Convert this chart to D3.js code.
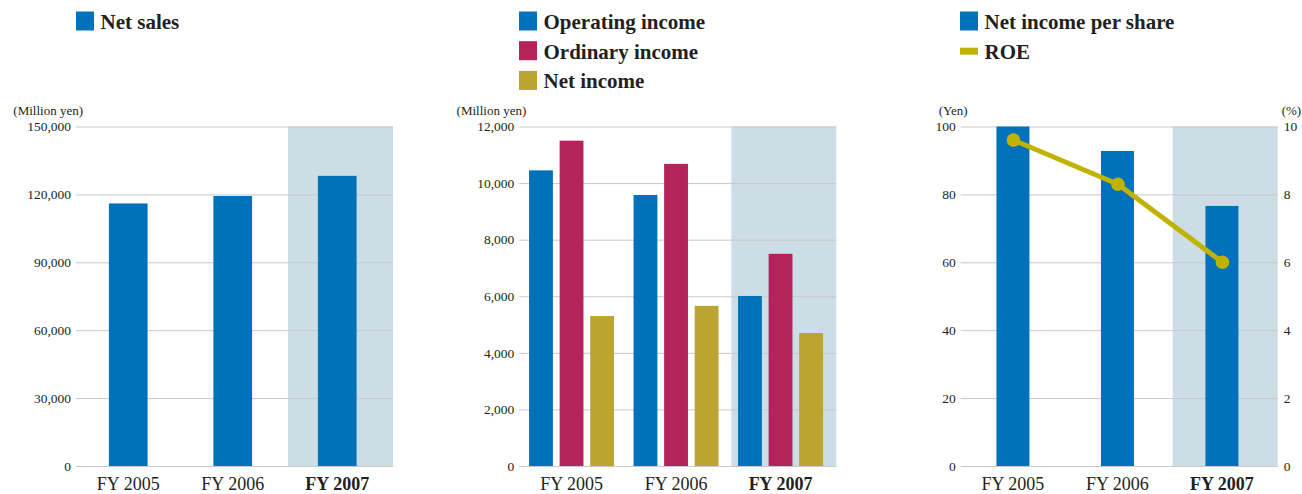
<!DOCTYPE html>
<html>
<head>
<meta charset="utf-8">
<script src="https://cdn.jsdelivr.net/npm/d3@7/dist/d3.min.js"></script>
<style>
  html, body { margin: 0; padding: 0; background: #fff; }
  svg { display: block; }
  text { font-family: "Liberation Serif", "Times New Roman", serif; fill: #231f20; }
</style>
</head>
<body>
<svg id="chart" width="1302" height="494"></svg>
<script>
// ---------- data ----------
const categories = ["FY 2005", "FY 2006", "FY 2007"];
const highlightCategory = "FY 2007";

const netSales = [116000, 119300, 128200];
const salesTicks = [0, 30000, 60000, 90000, 120000, 150000];

const operatingIncome = [10450, 9580, 6010];
const ordinaryIncome = [11500, 10680, 7500];
const netIncome = [5300, 5660, 4700];
const incomeTicks = [0, 2000, 4000, 6000, 8000, 10000, 12000];

const netIncomePerShare = [100, 92.8, 76.6];
const roe = [9.6, 8.3, 6.0];
const epsTicks = [0, 20, 40, 60, 80, 100];
const roeTicks = [0, 2, 4, 6, 8, 10];

const colors = {
  blue: "#0071bb",
  pink: "#b5235d",
  gold: "#bba432",
  roe: "#bfb300",
  shade: "#cdddE5",
  grid: "#c8c8c8"
};

// ---------- layout ----------
const svg = d3.select("#chart");
const yTop = 126.5, yZero = 466;
const plotW = 317;
const fmt = d3.format(",");

function panel(left, domainMax, ticks, unit) {
  const g = svg.append("g").attr("transform", `translate(${left},0)`);
  const x = d3.scaleBand().domain(categories).range([0, 313.5]);
  const y = d3.scaleLinear().domain([0, domainMax]).range([yZero, yTop]);

  // highlight shade for last category
  g.append("rect")
    .attr("x", x(highlightCategory) + 3)
    .attr("y", yTop)
    .attr("width", plotW - x(highlightCategory) - 3)
    .attr("height", yZero - yTop)
    .attr("fill", colors.shade);

  // grid + left axis
  const ax = g.append("g")
    .call(d3.axisLeft(y).tickValues(ticks).tickFormat(fmt).tickSize(-plotW).tickPadding(5));
  ax.select(".domain").remove();
  ax.selectAll(".tick line").attr("stroke", colors.grid).attr("stroke-width", 1);
  ax.selectAll(".tick text")
    .attr("fill", "#231f20")
    .style("font-family", '"Liberation Serif", serif')
    .style("font-size", "13.5px");

  // unit label
  g.append("text").attr("x", -3).attr("y", 115)
    .attr("text-anchor", "end")
    .attr("dx", 10)
    .style("font-size", "13px")
    .text(unit);

  // x labels
  g.selectAll("text.xl").data(categories).join("text")
    .attr("class", "xl")
    .attr("x", d => x(d) + x.bandwidth() / 2)
    .attr("y", 490)
    .attr("text-anchor", "middle")
    .style("font-size", "18px")
    .style("font-weight", d => d === highlightCategory ? "bold" : "normal")
    .text(d => d);

  return { g, x, y };
}

function legend(items, lx, ly) {
  items.forEach((it, i) => {
    const yy = ly + i * 29.7;
    if (it.line) {
      svg.append("rect").attr("x", lx).attr("y", yy + 6.5).attr("width", 18).attr("height", 7).attr("fill", it.color);
    } else {
      svg.append("rect").attr("x", lx).attr("y", yy).attr("width", 18).attr("height", 19).attr("fill", it.color);
    }
    svg.append("text").attr("x", lx + 24.5).attr("y", yy + 17.5)
      .style("font-size", "21px").style("font-weight", "bold")
      .text(it.label);
  });
}

// ---------- Panel 1: Net sales ----------
{
  const p = panel(76, 150000, salesTicks, "(Million yen)");
  p.g.select("text:not(.xl)");
  const bw = 38.7;
  p.g.selectAll("rect.bar").data(netSales).join("rect")
    .attr("class", "bar")
    .attr("x", (d, i) => p.x(categories[i]) + p.x.bandwidth() / 2 - bw / 2)
    .attr("y", d => p.y(d))
    .attr("width", bw)
    .attr("height", d => yZero - p.y(d))
    .attr("fill", colors.blue);
  legend([{ label: "Net sales", color: colors.blue }], 76, 11.5);
}

// ---------- Panel 2: Incomes ----------
{
  const p = panel(519.3, 12000, incomeTicks, "(Million yen)");
  const series = [
    { key: "op", values: operatingIncome, color: colors.blue },
    { key: "ord", values: ordinaryIncome, color: colors.pink },
    { key: "net", values: netIncome, color: colors.gold }
  ];
  const inner = d3.scaleBand().domain(series.map(s => s.key)).range([-42.5, 42.5]).paddingInner(0.22);
  series.forEach(s => {
    p.g.selectAll(`rect.bar-${s.key}`).data(s.values).join("rect")
      .attr("class", `bar-${s.key}`)
      .attr("x", (d, i) => p.x(categories[i]) + p.x.bandwidth() / 2 + inner(s.key))
      .attr("y", d => p.y(d))
      .attr("width", inner.bandwidth())
      .attr("height", d => yZero - p.y(d))
      .attr("fill", s.color);
  });
  legend([
    { label: "Operating income", color: colors.blue },
    { label: "Ordinary income", color: colors.pink },
    { label: "Net income", color: colors.gold }
  ], 519, 11.5);
}

// ---------- Panel 3: EPS + ROE ----------
{
  const p = panel(960.7, 100, epsTicks, "(Yen)");
  const y2 = d3.scaleLinear().domain([0, 10]).range([yZero, yTop]);
  const bw = 33;
  p.g.selectAll("rect.bar").data(netIncomePerShare).join("rect")
    .attr("class", "bar")
    .attr("x", (d, i) => p.x(categories[i]) + p.x.bandwidth() / 2 - bw / 2)
    .attr("y", d => p.y(d))
    .attr("width", bw)
    .attr("height", d => yZero - p.y(d))
    .attr("fill", colors.blue);

  // right axis labels
  const ax2 = p.g.append("g").attr("transform", `translate(${plotW},0)`)
    .call(d3.axisRight(y2).tickValues(roeTicks).tickSize(0).tickPadding(6));
  ax2.select(".domain").remove();
  ax2.selectAll(".tick text")
    .attr("fill", "#231f20")
    .style("font-family", '"Liberation Serif", serif')
    .style("font-size", "13.5px");
  p.g.append("text").attr("x", plotW + 4).attr("y", 115)
    .style("font-size", "13px").text("(%)");

  const line = d3.line()
    .x((d, i) => p.x(categories[i]) + p.x.bandwidth() / 2 + 0.5)
    .y(d => y2(d));
  p.g.append("path").datum(roe)
    .attr("d", line)
    .attr("fill", "none")
    .attr("stroke", colors.roe)
    .attr("stroke-width", 5)
    .attr("stroke-linejoin", "round");
  p.g.selectAll("circle.roe").data(roe).join("circle")
    .attr("class", "roe")
    .attr("cx", (d, i) => p.x(categories[i]) + p.x.bandwidth() / 2 + 0.5)
    .attr("cy", d => y2(d))
    .attr("r", 6.8)
    .attr("fill", colors.roe);

  legend([
    { label: "Net income per share", color: colors.blue },
    { label: "ROE", color: colors.roe, line: true }
  ], 960, 11.5);
}
</script>
</body>
</html>
